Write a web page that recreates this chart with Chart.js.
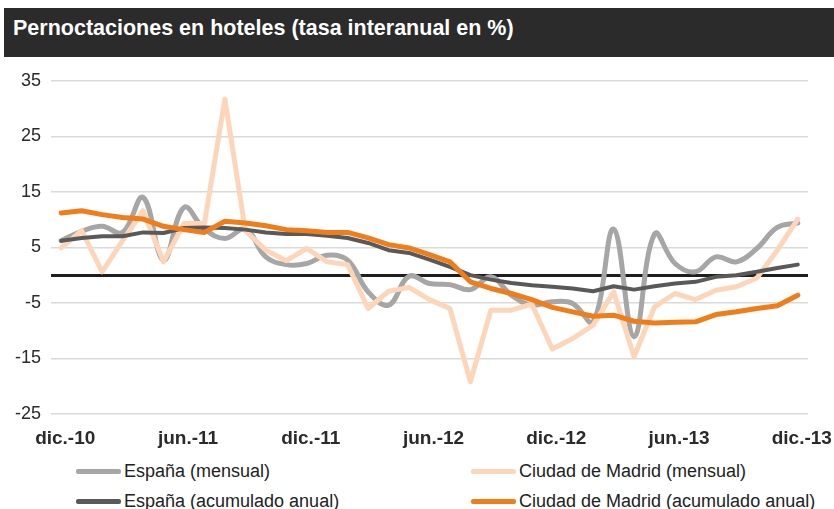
<!DOCTYPE html>
<html>
<head>
<meta charset="utf-8">
<script src="https://cdn.jsdelivr.net/npm/chart.js@4.4.1/dist/chart.umd.min.js"></script>
<style>
  body { margin: 0; background: #fff; font-family: "Liberation Sans", Arial, sans-serif; }
  #wrap { position: relative; width: 834px; height: 509px; overflow: hidden; }
  #title { position: absolute; left: 4px; top: 8px; width: 830px; height: 49px; background: #2b2b2b;
           color: #fff; font-weight: bold; font-size: 21.5px; line-height: 41px; padding-left: 9px; box-sizing: border-box; }
  #chartBox { position: absolute; left: 0; top: 60px; width: 834px; height: 390px; }
  .leg { position: absolute; font-size: 18px; color: #222; white-space: nowrap; line-height: 20px; }
  .leg span { position: absolute; top: 8px; height: 5px; width: 45px; border-radius: 2px; }
</style>
</head>
<body>
<div id="wrap">
  <div id="title">Pernoctaciones en hoteles (tasa interanual en %)</div>
  <div id="chartBox"><canvas id="chart" width="834" height="390"></canvas></div>
  <div id="legend"></div>
</div>
<script>
// months dic.-10 .. dic.-13
const months = [
  'dic.-10', 'ene.-11', 'feb.-11', 'mar.-11', 'abr.-11', 'may.-11', 'jun.-11', 'jul.-11', 'ago.-11', 'sep.-11', 'oct.-11', 'nov.-11',
  'dic.-11', 'ene.-12', 'feb.-12', 'mar.-12', 'abr.-12', 'may.-12', 'jun.-12', 'jul.-12', 'ago.-12', 'sep.-12', 'oct.-12', 'nov.-12',
  'dic.-12', 'ene.-13', 'feb.-13', 'mar.-13', 'abr.-13', 'may.-13', 'jun.-13', 'jul.-13', 'ago.-13', 'sep.-13', 'oct.-13', 'nov.-13',
  'dic.-13'
];

const espanaMensual = [
  6.2, 7.9, 8.8, 7.7, 14.0, 2.7, 12.2, 8.3, 6.6, 8.3, 3.3, 1.9,
  2.1, 3.6, 2.7, -3.0, -5.4, -0.2, -1.5, -1.7, -2.6, -0.3, -3.6, -5.4,
  -4.8, -5.1, -8.4, 8.3, -11.1, 7.4, 2.1, 0.6, 3.3, 2.4, 4.8, 8.6,
  9.4
];

const madridMensual = [
  4.9, 8.0, 0.6, 6.2, 11.6, 2.4, 9.3, 9.3, 31.7, 8.0, 4.5, 2.6,
  4.8, 2.4, 1.9, -6.0, -2.9, -2.2, -4.4, -6.0, -19.2, -6.3, -6.3, -5.2,
  -13.3, -11.4, -9.0, -3.0, -14.7, -5.7, -3.3, -4.4, -2.7, -2.1, -0.5, 4.5,
  10.1
];

const espanaAcumulado = [
  6.2, 6.7, 7.0, 7.0, 7.7, 7.6, 8.5, 8.6, 8.5, 8.2, 7.7, 7.4,
  7.4, 7.1, 6.7, 5.8, 4.5, 4.0, 2.8, 1.5, 0.0, -0.8, -1.4, -1.8,
  -2.1, -2.4, -2.9, -2.0, -2.6, -2.0, -1.5, -1.2, -0.3, 0.0, 0.6, 1.3,
  1.9
];

const madridAcumulado = [
  11.2, 11.6, 10.9, 10.4, 10.1, 8.8, 8.2, 7.7, 9.7, 9.4, 8.9, 8.2,
  8.0, 7.7, 7.7, 6.7, 5.5, 4.9, 3.7, 2.4, -1.2, -2.4, -3.3, -4.4,
  -5.8, -6.6, -7.4, -7.2, -8.3, -8.6, -8.5, -8.4, -7.1, -6.6, -6.0, -5.5,
  -3.6
];

const yTicks = [-25, -15, -5, 5, 15, 25, 35];

const series = [
  { label: 'España (mensual)', data: espanaMensual, color: '#a6a6a6', width: 5, tension: 0.4, order: 4 },
  { label: 'Ciudad de Madrid (mensual)', data: madridMensual, color: '#fdd6ba', width: 5, tension: 0, order: 3 },
  { label: 'España (acumulado anual)', data: espanaAcumulado, color: '#595959', width: 4, tension: 0, order: 2 },
  { label: 'Ciudad de Madrid (acumulado anual)', data: madridAcumulado, color: '#ef7d1a', width: 5, tension: 0, order: 1 }
];

const chart = new Chart(document.getElementById('chart'), {
  type: 'line',
  data: {
    labels: months,
    datasets: series.map(s => ({
      label: s.label,
      data: s.data,
      borderColor: s.color,
      backgroundColor: s.color,
      borderWidth: s.width,
      tension: s.tension,
      pointRadius: 0,
      fill: false,
      order: s.order,
      borderJoinStyle: 'round',
      borderCapStyle: 'round'
    }))
  },
  options: {
    responsive: false,
    animation: false,
    layout: { padding: { left: 0, right: 26, top: 20, bottom: 0 } },
    plugins: { legend: { display: false }, tooltip: { enabled: false } },
    scales: {
      x: {
        offset: true,
        grid: { display: false },
        border: { display: false },
        ticks: {
          autoSkip: false,
          maxRotation: 0,
          padding: 5,
          labelOffset: 4,
          color: '#2a2a2a',
          font: { family: 'Liberation Sans', size: 19, weight: 'bold' },
          callback: (v, i) => (i % 6 === 0 ? months[i] : '')
        },
        afterFit: scale => { scale.height = 36; }
      },
      y: {
        min: -25,
        max: 35,
        border: { display: false },
        afterBuildTicks: scale => {
          scale.ticks = yTicks.concat([0]).sort((a, b) => a - b).map(v => ({ value: v }));
        },
        grid: {
          drawTicks: false,
          color: ctx => (ctx.tick && ctx.tick.value === 0 ? '#1e1e1e' : '#dadada'),
          lineWidth: ctx => (ctx.tick && ctx.tick.value === 0 ? 3 : 1.5)
        },
        ticks: {
          padding: 10,
          color: '#2a2a2a',
          font: { family: 'Liberation Sans', size: 18 },
          callback: v => (v === 0 ? '' : v)
        },
        afterFit: scale => { scale.width = 51; }
      }
    }
  }
});

// legend in two columns, like the original
const legendPos = [
  { x: 76, y: 461 }, { x: 471, y: 461 },
  { x: 76, y: 491 }, { x: 471, y: 491 }
];
const legend = document.getElementById('legend');
series.forEach((s, k) => {
  const item = document.createElement('div');
  item.className = 'leg';
  item.style.left = legendPos[k].x + 'px';
  item.style.top = legendPos[k].y + 'px';
  item.style.paddingLeft = '48px';
  item.innerHTML = '<span style="left:0;background:' + s.color + '"></span>' + s.label;
  legend.appendChild(item);
});
</script>
</body>
</html>
